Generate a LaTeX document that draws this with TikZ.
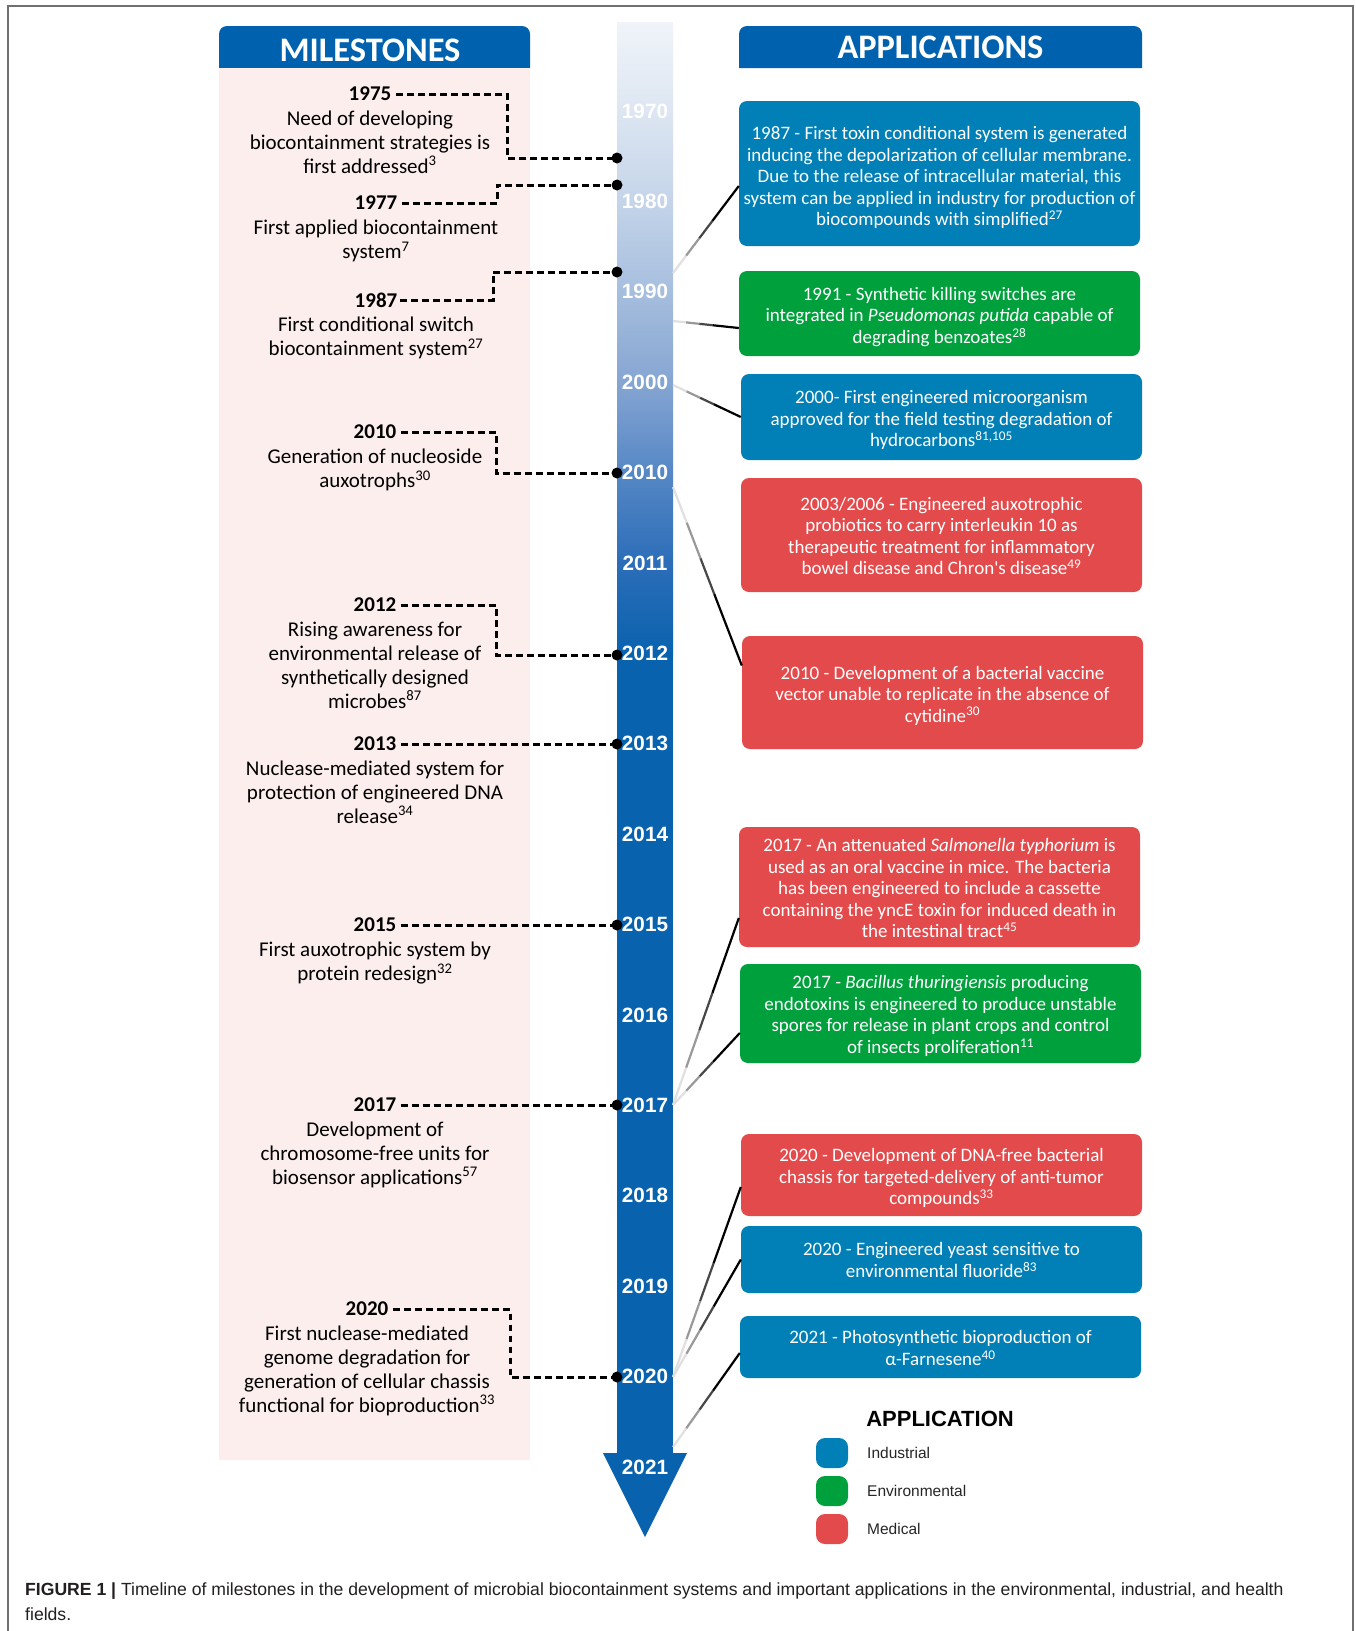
\documentclass[tikz,border=0pt]{standalone}
\usepackage{fontspec}
\setmainfont{Carlito}
\newfontfamily\arialfont{Liberation Sans}
\usetikzlibrary{calc}

\definecolor{hdrblue}{HTML}{0061AE}
\definecolor{barblue}{HTML}{0862AE}
\definecolor{indc}{HTML}{0080B6}
\definecolor{envc}{HTML}{00A03C}
\definecolor{medc}{HTML}{E34A4B}
\definecolor{pinkbg}{HTML}{FDEEEE}
\definecolor{framegray}{HTML}{707070}
\definecolor{captext}{HTML}{231F20}
\definecolor{sh1}{HTML}{F0F4F9}
\definecolor{sh2}{HTML}{DDE6F2}
\definecolor{sh3}{HTML}{C4D4E9}
\definecolor{sh4}{HTML}{A6BEDE}
\definecolor{sh5}{HTML}{85A5D2}
\definecolor{sh6}{HTML}{5587C5}
\definecolor{sh7}{HTML}{2C6DB8}

\pgfdeclareverticalshading{barshade}{100bp}{color(0bp)=(barblue); color(25bp)=(barblue); color(32.3bp)=(sh7); color(39.4bp)=(sh6); color(46.5bp)=(sh5); color(53.7bp)=(sh4); color(60.8bp)=(sh3); color(68bp)=(sh2); color(75bp)=(sh1); color(100bp)=(sh1)}

\newcommand{\gradconn}[2]{%
  \draw[conn,black!12] (#1) -- ($(#1)!0.2!(#2)$);
  \draw[conn,black!40] ($(#1)!0.2!(#2)$) -- ($(#1)!0.4!(#2)$);
  \draw[conn,black!72] ($(#1)!0.4!(#2)$) -- ($(#1)!0.6!(#2)$);
  \draw[conn,black] ($(#1)!0.6!(#2)$) -- (#2);}

\begin{document}
\begin{tikzpicture}[x=1pt,y=-1pt,
  msyear/.style={font=\fontsize{21}{24}\selectfont\bfseries, inner sep=0pt},
  msdesc/.style={font=\fontsize{21}{23.8}\selectfont, align=center, inner sep=0pt, anchor=north},
  msline/.style={line width=3pt, dash pattern=on 6.5pt off 4.5pt},
  baryear/.style={font=\arialfont\bfseries\fontsize{20.7}{21}\selectfont, text=white, inner sep=0pt},
  appbox/.style={rounded corners=8pt, inner sep=0pt, minimum width=401pt},
  apptext/.style={text=white, align=center, inner sep=0pt, font=\fontsize{19}{21.5}\selectfont},
  hdrtext/.style={text=white, font=\fontsize{34.4}{34}\selectfont\bfseries, inner sep=0pt},
  conn/.style={line width=2.2pt},
  swatch/.style={rounded corners=9pt, minimum width=32pt, minimum height=30pt, inner sep=0pt},
  legtext/.style={font=\arialfont\fontsize{15.5}{18}\selectfont, anchor=west, inner sep=0pt, text=black!85},
  captxt/.style={anchor=base west, inner sep=0pt, text=captext, font=\arialfont\fontsize{17.6}{20}\selectfont}
]
\useasboundingbox (0,0) rectangle (1356,1631);
\fill[white] (0,0) rectangle (1356,1631);

% frame
\draw[framegray, line width=1.5pt] (8,1631) -- (8,6) -- (1353,6) -- (1353,1631);

% milestones panel
\fill[hdrblue] (219,68) [rounded corners=8pt] -- (219,26) -- (530,26) [sharp corners] -- (530,68) -- cycle;
\fill[pinkbg] (219,68) rectangle (530,1460);
\node[hdrtext] (mtitle) at (370,50) {MILESTONES};

% applications header
\fill[hdrblue] (739,68) [rounded corners=8pt] -- (739,26) -- (1142,26) [sharp corners] -- (1142,68) -- cycle;
\node[hdrtext] (atitle) at (940.5,47) {APPLICATIONS};

% timeline bar
\shade[shading=barshade] (617,22) rectangle (673,656);
\fill[barblue] (617,655) rectangle (673,1454);
\fill[barblue] (603,1453) -- (687,1453) -- (645,1537) -- cycle;

\foreach \yr [count=\i from 0] in {1970,1980,1990,2000,2010,2011,2012,2013,2014,2015,2016,2017,2018,2019,2020,2021}
  \node[baryear] (yr\yr) at (645,111+\i*90.4) {\yr};

% milestone texts
\node[msyear] (y1975) at (370,94) {1975};
\node[msdesc] (d1975) at ([yshift=-17pt]y1975.center) {Need of developing\\biocontainment strategies is\\first addressed\textsuperscript{3}};
\node[msyear] (y1977) at (376,203) {1977};
\node[msdesc] (d1977) at ([yshift=-17pt]y1977.center) {First applied biocontainment\\system\textsuperscript{7}};
\node[msyear] (y1987) at (376,300) {1987};
\node[msdesc] (d1987) at ([yshift=-17pt]y1987.center) {First conditional switch\\biocontainment system\textsuperscript{27}};
\node[msyear] (y2010) at (375,432) {2010};
\node[msdesc] (d2010) at ([yshift=-17pt]y2010.center) {Generation of nucleoside\\auxotrophs\textsuperscript{30}};
\node[msyear] (y2012) at (375,605) {2012};
\node[msdesc] (d2012) at ([yshift=-17pt]y2012.center) {Rising awareness for\\environmental release of\\synthetically designed\\microbes\textsuperscript{87}};
\node[msyear] (y2013) at (375,744) {2013};
\node[msdesc] (d2013) at ([yshift=-17pt]y2013.center) {Nuclease-mediated system for\\protection of engineered DNA\\release\textsuperscript{34}};
\node[msyear] (y2015) at (375,925) {2015};
\node[msdesc] (d2015) at ([yshift=-17pt]y2015.center) {First auxotrophic system by\\protein redesign\textsuperscript{32}};
\node[msyear] (y2017) at (375,1105) {2017};
\node[msdesc] (d2017) at ([yshift=-17pt]y2017.center) {Development of\\chromosome-free units for\\biosensor applications\textsuperscript{57}};
\node[msyear] (y2020) at (367,1309) {2020};
\node[msdesc] (d2020) at ([yshift=-17pt]y2020.center) {First nuclease-mediated\\genome degradation for\\generation of cellular chassis\\functional for bioproduction\textsuperscript{33}};

% dots on the bar
\coordinate (p1975) at (617,158);
\coordinate (p1977) at (617,185);
\coordinate (p1987) at (617,272);
\coordinate (p2010) at (617,473);
\coordinate (p2012) at (617,655);
\coordinate (p2013) at (617,744);
\coordinate (p2015) at (617,925);
\coordinate (p2017) at (617,1105);
\coordinate (p2020) at (617,1377);

% dashed milestone connectors
\draw[msline] ([xshift=5pt]y1975.east) -| ([xshift=-110pt]p1975) -- (p1975);
\draw[msline] ([xshift=5pt]y1977.east) -| ([xshift=-120pt]p1977) -- (p1977);
\draw[msline] ([xshift=3pt]y1987.east) -| ([xshift=-124pt]p1987) -- (p1987);
\draw[msline] ([xshift=5pt]y2010.east) -| ([xshift=-121pt]p2010) -- (p2010);
\draw[msline] ([xshift=5pt]y2012.east) -| ([xshift=-121pt]p2012) -- (p2012);
\draw[msline] ([xshift=5pt]y2013.east) -- (p2013);
\draw[msline] ([xshift=5pt]y2015.east) -- (p2015);
\draw[msline] ([xshift=5pt]y2017.east) -- (p2017);
\draw[msline] ([xshift=5pt]y2020.east) -| ([xshift=-107pt]p2020) -- (p2020);
\foreach \p in {p1975,p1977,p1987,p2010,p2012,p2013,p2015,p2017,p2020}
  \fill[black] (\p) circle (5.5pt);

% application boxes
\node[appbox, fill=indc, minimum height=145pt] (b1) at (939.5,173.5) {};
\node[appbox, fill=envc, minimum height=85pt] (b2) at (939.5,313.5) {};
\node[appbox, fill=indc, minimum height=86pt] (b3) at (941.5,417) {};
\node[appbox, fill=medc, minimum height=114pt] (b4) at (941.5,535) {};
\node[appbox, fill=medc, minimum height=113pt] (b5) at (942.5,692.5) {};
\node[appbox, fill=medc, minimum height=120pt] (b6) at (939.5,887) {};
\node[appbox, fill=envc, minimum height=99pt] (b7) at (940.5,1013.5) {};
\node[appbox, fill=medc, minimum height=82pt] (b8) at (941.5,1175) {};
\node[appbox, fill=indc, minimum height=67pt] (b9) at (941.5,1259.5) {};
\node[appbox, fill=indc, minimum height=62pt] (b10) at (940.5,1347) {};

\node[apptext] (t1) at ([yshift=-4pt]b1.center) {1987 - First toxin conditional system is generated\\inducing the depolarization of cellular membrane.\\Due to the release of intracellular material, this\\system can be applied in industry for production of\\biocompounds with simplified\textsuperscript{27}};
\node[apptext] (t2) at ([yshift=-3.5pt]b2.center) {1991 - Synthetic killing switches are\\integrated in \textit{Pseudomonas putida} capable of\\degrading benzoates\textsuperscript{28}};
\node[apptext] (t3) at ([yshift=-3pt]b3.center) {2000- First engineered microorganism\\approved for the field testing degradation of\\hydrocarbons\textsuperscript{81,105}};
\node[apptext] (t4) at ([yshift=-1pt]b4.center) {2003/2006 - Engineered auxotrophic\\probiotics to carry interleukin 10 as\\therapeutic treatment for inflammatory\\bowel disease and Chron\textquotesingle s disease\textsuperscript{49}};
\node[apptext] (t5) at ([yshift=-3pt]b5.center) {2010 - Development of a bacterial vaccine\\vector unable to replicate in the absence of\\cytidine\textsuperscript{30}};
\node[apptext] (t6) at ([yshift=-1pt]b6.center) {2017 - An attenuated \textit{Salmonella typhorium} is\\used as an oral vaccine in mice. The bacteria\\has been engineered to include a cassette\\containing the yncE toxin for induced death in\\the intestinal tract\textsuperscript{45}};
\node[apptext] (t7) at ([yshift=-2.5pt]b7.center) {2017 - \textit{Bacillus thuringiensis} producing\\endotoxins is engineered to produce unstable\\spores for release in plant crops and control\\of insects proliferation\textsuperscript{11}};
\node[apptext] (t8) at ([yshift=-3pt]b8.center) {2020 - Development of DNA-free bacterial\\chassis for targeted-delivery of anti-tumor\\compounds\textsuperscript{33}};
\node[apptext] (t9) at ([yshift=-0.5pt]b9.center) {2020 - Engineered yeast sensitive to\\environmental fluoride\textsuperscript{83}};
\node[apptext] (t10) at ([yshift=-1pt]b10.center) {2021 - Photosynthetic bioproduction of\\α-Farnesene\textsuperscript{40}};

% connectors bar -> boxes
\coordinate (s1) at (673,273);  \coordinate (e1) at ([yshift=-12.5pt]b1.west);
\coordinate (s2) at (673,321);  \coordinate (e2) at ([yshift=-14.5pt]b2.west);
\coordinate (s3) at (673,385);  \coordinate (e3) at (b3.west);
\coordinate (s5) at (673,487);  \coordinate (e5) at ([yshift=27pt]b5.west);
\coordinate (s6) at (673,1105); \coordinate (e6) at ([yshift=-31pt]b6.west);
\coordinate (s7) at (673,1105); \coordinate (e7) at ([yshift=-19.5pt]b7.west);
\coordinate (s8) at (673,1377); \coordinate (e8) at ([yshift=-12pt]b8.west);
\coordinate (s9) at (673,1377); \coordinate (e9) at (b9.west);
\coordinate (s10) at (673,1447); \coordinate (e10) at ([yshift=-6pt]b10.west);
\gradconn{s1}{e1}
\gradconn{s2}{e2}
\gradconn{s3}{e3}
\gradconn{s5}{e5}
\gradconn{s6}{e6}
\gradconn{s7}{e7}
\gradconn{s8}{e8}
\gradconn{s9}{e9}
\gradconn{s10}{e10}

% legend
\node[font=\arialfont\bfseries\fontsize{22}{22}\selectfont, inner sep=0pt] (legtitle) at (940,1419) {APPLICATION};
\node[swatch, fill=indc] (swi) at (832,1453) {};
\node[legtext] (li) at (867,1453) {Industrial};
\node[swatch, fill=envc] (swe) at (832,1491) {};
\node[legtext] (le) at (867,1491) {Environmental};
\node[swatch, fill=medc] (swm) at (832,1529) {};
\node[legtext] (lm) at (867,1529) {Medical};

% caption
\node[captxt] (cap1) at (25,1595) {\textbf{FIGURE 1 |} Timeline of milestones in the development of microbial biocontainment systems and important applications in the environmental, industrial, and health};
\node[captxt] (cap2) at (25,1620) {fields.};
\end{tikzpicture}
\end{document}
